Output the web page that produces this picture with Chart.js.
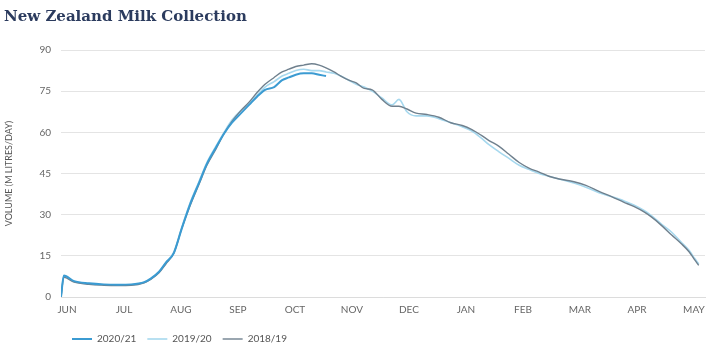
<!DOCTYPE html>
<html>
<head>
<meta charset="utf-8">
<script src="https://cdn.jsdelivr.net/npm/chart.js@4/dist/chart.umd.min.js"></script>
<style>
  html, body { margin: 0; padding: 0; background: #fff; }
  #wrap { width: 717px; height: 354px; }
</style>
</head>
<body>
<div id="wrap"><canvas id="myChart"></canvas></div>
<script>
// month labels, one tick per month (season runs June to May)
let months = ['JUN', 'JUL', 'AUG', 'SEP', 'OCT', 'NOV', 'DEC', 'JAN', 'FEB', 'MAR', 'APR', 'MAY'];

// x position of each reading, in months from 1 June
let monthPos = [
    0, 0.05, 0.23, 0.49, 0.75, 1.0, 1.23, 1.46, 1.58, 1.72,
    1.84, 1.98, 2.12, 2.26, 2.42, 2.56, 2.72, 2.86, 3.0, 3.16,
    3.30, 3.44, 3.58, 3.74, 3.88, 4.0, 4.12, 4.26, 4.40, 4.53,
    4.65, 4.79, 4.91, 5.05, 5.18, 5.32, 5.46, 5.63, 5.81, 5.93,
    6.07, 6.23, 6.42, 6.63, 6.84, 7.04, 7.21, 7.37, 7.51, 7.68,
    7.86, 8.04, 8.21, 8.39, 8.56, 8.74, 9.0, 9.21, 9.44, 9.67,
    9.88, 10.05, 10.23, 10.37, 10.54, 10.72, 10.88, 11.02, 11.12, 11.19
];

// volume, million litres per day
let season2021 = [
    0, 7.8, 5.8, 5.0, 4.6, 4.5, 4.6, 5.4, 6.8, 9.2,
    12.5, 16, 25, 33.5, 41.5, 48.5, 54.5, 59.5, 63.5, 67,
    70, 73, 75.5, 76.5, 79, 80, 81, 81.5, 81.5, 81,
    80.5
];
let season1920 = [
    0, 7.5, 5.6, 4.8, 4.4, 4.3, 4.4, 5.3, 6.6, 9.0,
    12.5, 16.5, 25.5, 34, 42, 49, 55, 60, 64.5, 68,
    70.5, 73.5, 76.5, 78.5, 80.5, 81.5, 82.5, 83, 82.5, 82.5,
    82, 81.5, 80.5, 79, 77.5, 76.5, 75, 72.5, 70, 72,
    67.5, 66, 66, 65, 63.5, 62, 60.5, 58, 55.5, 53,
    50.5, 48, 46.5, 45, 44, 43, 41.5, 40, 38, 36.5,
    35, 33.5, 31.5, 29.5, 26.5, 23.5, 20, 17, 14, 12
];
let season1819 = [
    0, 7.2, 5.4, 4.6, 4.3, 4.2, 4.3, 5.2, 6.5, 8.8,
    12, 16, 25, 33, 41, 48, 54, 59.5, 64, 68,
    71, 74.5, 77.5, 80, 82, 83, 84, 84.5, 85, 84.5,
    83.5, 82, 80.5, 79, 78, 76, 75.5, 72, 69.5, 69.5,
    68.5, 67, 66.5, 65.5, 63.5, 62.5, 61, 59, 57, 55,
    52, 49, 47, 45.5, 44, 43, 42, 40.7, 38.5, 36.5,
    34.5, 33, 31, 29, 26, 22.5, 19.5, 16.5, 13.5, 11.5
];

let seasonNames = ['2020/21', '2019/20', '2018/19'];
let yTicks = [0, 15, 30, 45, 60, 75, 90];

function toPoints(values) {
    let pts = [];
    for (let i = 0; i < values.length; i++) {
        pts.push({ x: monthPos[i], y: values[i] });
    }
    return pts;
}

let font = 'Lato, "Open Sans", sans-serif';

let config = {
    type: 'line',
    data: {
        datasets: [
            {
                label: seasonNames[0],
                data: toPoints(season2021),
                borderColor: '#3b9bd2',
                backgroundColor: '#3b9bd2',
                borderWidth: 2,
                order: 0
            },
            {
                label: seasonNames[1],
                data: toPoints(season1920),
                borderColor: '#a6d8ee',
                backgroundColor: '#a6d8ee',
                borderWidth: 1.6,
                order: 2
            },
            {
                label: seasonNames[2],
                data: toPoints(season1819),
                borderColor: '#6f808e',
                backgroundColor: '#6f808e',
                borderWidth: 1.4,
                order: 1
            }
        ]
    },
    options: {
        responsive: true,
        maintainAspectRatio: false,
        animation: false,
        layout: { padding: { left: 4, right: 12, top: 0, bottom: 0 } },
        elements: {
            point: { radius: 0 },
            line: { cubicInterpolationMode: 'monotone' }
        },
        plugins: {
            tooltip: { enabled: false },
            title: {
                display: true,
                text: 'New Zealand Milk Collection',
                align: 'start',
                color: '#2b3b5e',
                font: { family: '"DejaVu Serif", serif', size: 15, weight: 'bold' },
                padding: { top: 8, bottom: 24 }
            },
            legend: {
                position: 'bottom',
                align: 'start',
                fullSize: false,
                labels: {
                    usePointStyle: true,
                    pointStyle: 'line',
                    pointStyleWidth: 20,
                    color: '#555',
                    padding: 11,
                    font: { family: font, size: 10 },
                    sort(a, b) {
                        return a.datasetIndex - b.datasetIndex;
                    }
                }
            }
        },
        scales: {
            x: {
                type: 'linear',
                min: 0,
                max: 11.3,
                grid: { display: false, drawTicks: false },
                border: { display: true, color: '#dcdcdc' },
                ticks: {
                    stepSize: 1,
                    autoSkip: false,
                    maxRotation: 0,
                    labelOffset: 6,
                    padding: 7,
                    color: '#666',
                    font: { family: font, size: 10 },
                    callback(value) {
                        return months[value];
                    }
                },
                afterBuildTicks(scale) {
                    scale.ticks = months.map((m, i) => ({ value: i }));
                }
            },
            y: {
                min: 0,
                max: 90,
                afterBuildTicks(scale) {
                    scale.ticks = yTicks.map(v => ({ value: v }));
                },
                afterFit(scale) {
                    scale.width = 57;
                },
                grid: { color: '#e4e4e4', drawTicks: false },
                border: { display: false },
                ticks: {
                    padding: 10,
                    color: '#666',
                    font: { family: font, size: 10 }
                },
                title: {
                    display: true,
                    text: 'VOLUME (M LITRES/DAY)',
                    color: '#555',
                    font: { family: font, size: 9 },
                    padding: { top: 0, bottom: 6 }
                }
            }
        }
    }
};

const ctx = document.getElementById('myChart');
window.chart = new Chart(ctx, config);
</script>
</body>
</html>
